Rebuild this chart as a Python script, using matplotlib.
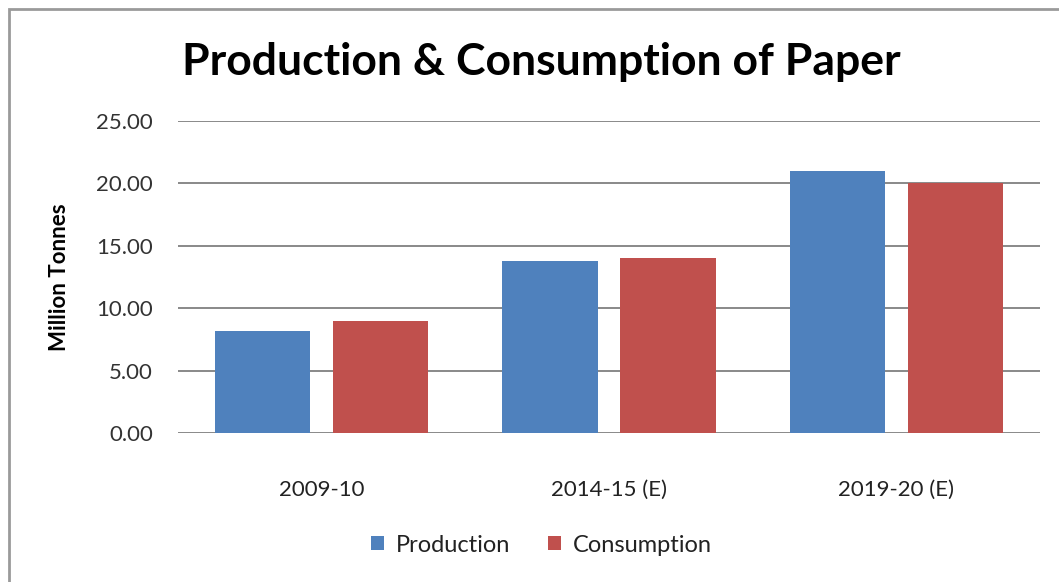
import numpy as np
from matplotlib import pyplot as plt
from matplotlib.patches import Rectangle

# data
categories = ['2009-10', '2014-15 (E)', '2019-20 (E)']
production = [8.2, 13.8, 21.0]
consumption = [9.0, 14.0, 20.0]
y_ticks = [0, 5, 10, 15, 20, 25]

plt.rcParams['font.family'] = ['Lato', 'DejaVu Sans']

fig = plt.figure(figsize=(10.59, 5.82), dpi=100)
ax = fig.add_axes([178/1059, 149/582, 862/1059, 312/582])

x = np.arange(len(categories))
w = 0.331
off = 0.2055
ax.bar(x - off, production, w, color='#4F81BD', label='Production', zorder=3)
ax.bar(x + off, consumption, w, color='#C0504D', label='Consumption', zorder=3)

ax.set_xlim(-0.5, 2.5)
ax.set_ylim(0, 25)
ax.set_yticks(y_ticks)
ax.set_yticklabels(['%.2f' % v for v in y_ticks], fontsize=16, color='#333333')
ax.set_xticks(x)
ax.set_xticklabels(categories, fontsize=16, color='#222222')
ax.tick_params(axis='y', length=0, pad=18)
ax.tick_params(axis='x', length=0, pad=34)
ax.grid(axis='y', color='#808080', linewidth=1.3, zorder=0)
for s in ['top', 'right', 'left', 'bottom']:
    ax.spines[s].set_visible(False)

ax.set_ylabel('Million Tonnes', fontsize=16, fontweight='bold')
ax.yaxis.set_label_coords(-0.125, 0.5)

fig.text(0.511, 1 - 62/582, 'Production & Consumption of Paper', ha='center', va='center',
         fontsize=32, fontweight='bold', color='black')

leg = fig.legend(loc='center', bbox_to_anchor=(0.511, 1 - 545/582), ncol=2, frameon=False,
                 fontsize=17, handlelength=0.55, handleheight=0.55, handletextpad=0.5,
                 columnspacing=1.6)
for t in leg.get_texts():
    t.set_color('#222222')

# outer chart border (cut off at right and bottom)
fig.patches.append(Rectangle((9/1059, -0.1), 1.2, 1 - 9/582 + 0.1, transform=fig.transFigure,
                             fill=False, edgecolor='#9a9a9a', linewidth=2))

fig.savefig('out.png', dpi=100)
